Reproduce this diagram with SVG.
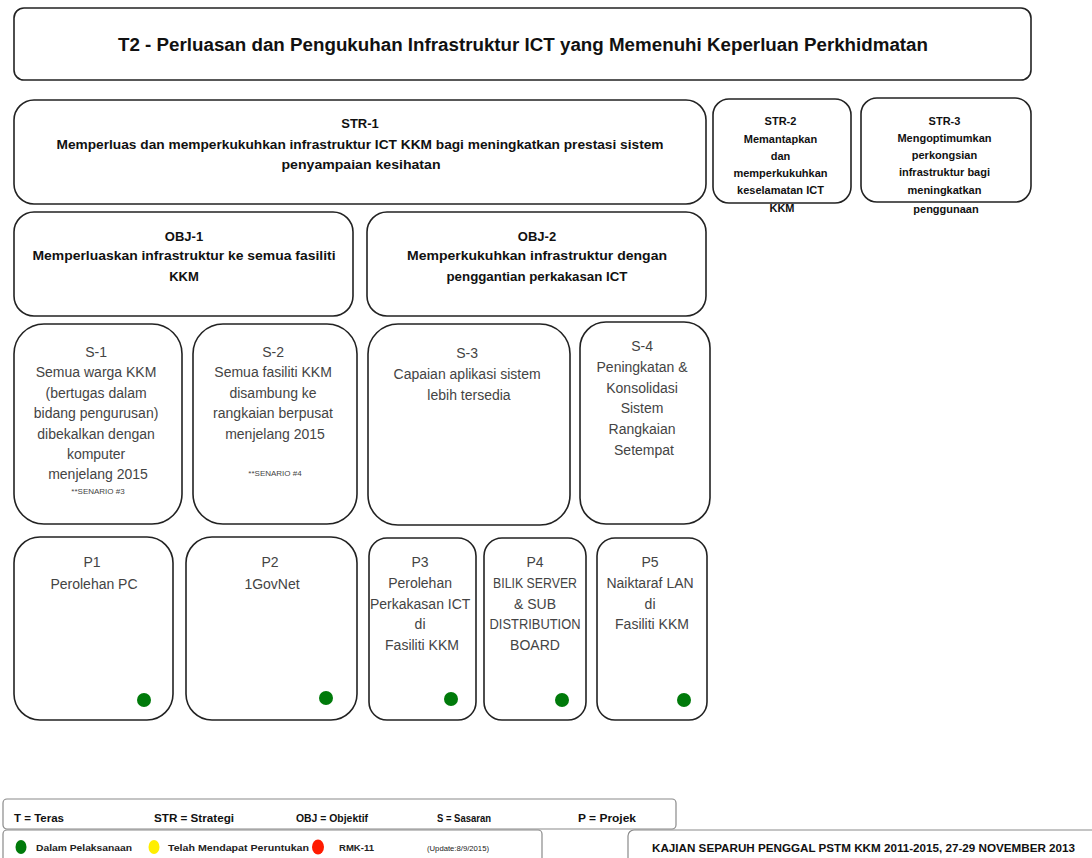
<svg xmlns="http://www.w3.org/2000/svg" width="1092" height="858" viewBox="0 0 1092 858">
  <style>
    .box { fill: #ffffff; stroke: #222222; stroke-width: 1.6; }
    .lbox { fill: #ffffff; stroke: #8a8a8a; stroke-width: 1.2; }
    .hb { font-family: "Liberation Sans", Arial, sans-serif; font-weight: bold; fill: #111111; text-anchor: middle; }
    .tx { font-family: "Liberation Sans", Arial, sans-serif; fill: #444444; text-anchor: middle; font-size: 14px; }
    .sm { font-family: "Liberation Sans", Arial, sans-serif; fill: #444444; text-anchor: middle; font-size: 8px; }
    .lg { font-family: "Liberation Sans", Arial, sans-serif; font-weight: bold; fill: #111111; font-size: 11px; }
    .lgs { font-family: "Liberation Sans", Arial, sans-serif; font-weight: bold; fill: #222222; font-size: 9.5px; }
    .lgx { font-family: "Liberation Sans", Arial, sans-serif; fill: #222222; font-size: 7.5px; }
    .dot { fill: #007a0a; }
  </style>

  <!-- Teras -->
  <g id="t2">
    <rect class="box" x="14" y="8" width="1017" height="72" rx="10"/>
    <text class="hb" x="523" y="51" font-size="18" textLength="810" lengthAdjust="spacingAndGlyphs">T2 - Perluasan dan Pengukuhan Infrastruktur ICT yang Memenuhi Keperluan Perkhidmatan</text>
  </g>

  <!-- Strategi -->
  <g id="str1">
    <rect class="box" x="14" y="100" width="692" height="104" rx="20"/>
    <text class="hb" x="360" y="128" font-size="13">STR-1</text>
    <text class="hb" x="360" y="149" font-size="13" textLength="607" lengthAdjust="spacingAndGlyphs">Memperluas dan memperkukuhkan infrastruktur ICT KKM bagi meningkatkan prestasi sistem</text>
    <text class="hb" x="361" y="169" font-size="13" textLength="159" lengthAdjust="spacingAndGlyphs">penyampaian kesihatan</text>
  </g>
  <g id="str2">
    <rect class="box" x="713" y="99" width="138" height="104" rx="16"/>
    <text class="hb" font-size="11">
      <tspan x="782" y="125">STR-2</tspan>
      <tspan x="782" y="143">Memantapkan</tspan>
      <tspan x="782" y="160">dan</tspan>
      <tspan x="782" y="177">memperkukuhkan</tspan>
      <tspan x="782" y="194">keselamatan ICT</tspan>
      <tspan x="782" y="212">KKM</tspan>
    </text>
  </g>
  <g id="str3">
    <rect class="box" x="861" y="98" width="170" height="104" rx="16"/>
    <text class="hb" font-size="11">
      <tspan x="946" y="125">STR-3</tspan>
      <tspan x="946" y="142">Mengoptimumkan</tspan>
      <tspan x="946" y="159">perkongsian</tspan>
      <tspan x="946" y="176">infrastruktur bagi</tspan>
      <tspan x="946" y="194">meningkatkan</tspan>
      <tspan x="946" y="213">penggunaan</tspan>
    </text>
  </g>

  <!-- Objektif -->
  <g id="obj1">
    <rect class="box" x="14" y="212" width="339" height="104" rx="20"/>
    <text class="hb" x="184" y="241" font-size="13">OBJ-1</text>
    <text class="hb" x="184" y="260" font-size="13" textLength="303" lengthAdjust="spacingAndGlyphs">Memperluaskan infrastruktur ke semua fasiliti</text>
    <text class="hb" x="184" y="281" font-size="13">KKM</text>
  </g>
  <g id="obj2">
    <rect class="box" x="367" y="212" width="339" height="104" rx="20"/>
    <text class="hb" x="537" y="241" font-size="13">OBJ-2</text>
    <text class="hb" x="537" y="260" font-size="13" textLength="260" lengthAdjust="spacingAndGlyphs">Memperkukuhkan infrastruktur dengan</text>
    <text class="hb" x="537" y="281" font-size="13" textLength="181" lengthAdjust="spacingAndGlyphs">penggantian perkakasan ICT</text>
  </g>

  <!-- Sasaran -->
  <g id="s1">
    <rect class="box" x="14" y="324" width="168" height="200" rx="30"/>
    <text class="tx">
      <tspan x="98" y="357">S-1</tspan>
      <tspan x="98" y="377">Semua warga KKM</tspan>
      <tspan x="98" y="398">(bertugas dalam</tspan>
      <tspan x="98" y="418">bidang pengurusan)</tspan>
      <tspan x="98" y="439">dibekalkan dengan</tspan>
      <tspan x="98" y="459">komputer</tspan>
      <tspan x="98" y="479">menjelang 2015</tspan>
    </text>
    <text class="sm" x="98" y="494">**SENARIO #3</text>
  </g>
  <g id="s2">
    <rect class="box" x="193" y="324" width="164" height="200" rx="30"/>
    <text class="tx">
      <tspan x="275" y="357">S-2</tspan>
      <tspan x="275" y="377">Semua fasiliti KKM</tspan>
      <tspan x="275" y="398">disambung ke</tspan>
      <tspan x="275" y="418">rangkaian berpusat</tspan>
      <tspan x="275" y="439">menjelang 2015</tspan>
    </text>
    <text class="sm" x="275" y="476">**SENARIO #4</text>
  </g>
  <g id="s3">
    <rect class="box" x="368" y="324" width="202" height="201" rx="30"/>
    <text class="tx">
      <tspan x="469" y="358">S-3</tspan>
      <tspan x="469" y="379">Capaian aplikasi sistem</tspan>
      <tspan x="469" y="400">lebih tersedia</tspan>
    </text>
  </g>
  <g id="s4">
    <rect class="box" x="580" y="322" width="130" height="202" rx="26"/>
    <text class="tx">
      <tspan x="644" y="351">S-4</tspan>
      <tspan x="644" y="372">Peningkatan &amp;</tspan>
      <tspan x="644" y="393">Konsolidasi</tspan>
      <tspan x="644" y="413">Sistem</tspan>
      <tspan x="644" y="434">Rangkaian</tspan>
      <tspan x="644" y="455">Setempat</tspan>
    </text>
  </g>

  <!-- Projek -->
  <g id="p1">
    <rect class="box" x="14" y="537" width="159" height="183" rx="26"/>
    <text class="tx">
      <tspan x="94" y="567">P1</tspan>
      <tspan x="94" y="589">Perolehan PC</tspan>
    </text>
    <circle class="dot" cx="144" cy="700" r="7"/>
  </g>
  <g id="p2">
    <rect class="box" x="186" y="537" width="171" height="183" rx="26"/>
    <text class="tx">
      <tspan x="272" y="567">P2</tspan>
      <tspan x="272" y="589">1GovNet</tspan>
    </text>
    <circle class="dot" cx="326" cy="698" r="7"/>
  </g>
  <g id="p3">
    <rect class="box" x="369" y="538" width="107" height="182" rx="18"/>
    <text class="tx">
      <tspan x="422" y="567">P3</tspan>
      <tspan x="422" y="588">Perolehan</tspan>
      <tspan x="422" y="609">Perkakasan ICT</tspan>
      <tspan x="422" y="629">di</tspan>
      <tspan x="422" y="650">Fasiliti KKM</tspan>
    </text>
    <circle class="dot" cx="451" cy="699" r="7"/>
  </g>
  <g id="p4">
    <rect class="box" x="484" y="538" width="102" height="182" rx="18"/>
    <text class="tx" x="535" y="567">P4</text>
    <text class="tx" x="535" y="588" textLength="84" lengthAdjust="spacingAndGlyphs">BILIK SERVER</text>
    <text class="tx" x="535" y="609">&amp; SUB</text>
    <text class="tx" x="535" y="629" textLength="91" lengthAdjust="spacingAndGlyphs">DISTRIBUTION</text>
    <text class="tx" x="535" y="650">BOARD</text>
    <circle class="dot" cx="562" cy="700" r="7"/>
  </g>
  <g id="p5">
    <rect class="box" x="597" y="538" width="110" height="182" rx="18"/>
    <text class="tx">
      <tspan x="652" y="567">P5</tspan>
      <tspan x="652" y="588">Naiktaraf LAN</tspan>
      <tspan x="652" y="609">di</tspan>
      <tspan x="652" y="629">Fasiliti KKM</tspan>
    </text>
    <circle class="dot" cx="684" cy="700" r="7"/>
  </g>

  <!-- Connectors: none drawn in this chart -->
  <g id="connectors"></g>

  <!-- Legend -->
  <g id="legend-abbrev">
    <rect class="lbox" x="3" y="799" width="673" height="30" rx="4"/>
    <text class="lg" x="14" y="822" textLength="50" lengthAdjust="spacingAndGlyphs">T = Teras</text>
    <text class="lg" x="154" y="822" textLength="80" lengthAdjust="spacingAndGlyphs">STR = Strategi</text>
    <text class="lg" x="296" y="822" textLength="72" lengthAdjust="spacingAndGlyphs">OBJ = Objektif</text>
    <text class="lg" x="437" y="822" textLength="54" lengthAdjust="spacingAndGlyphs">S = Sasaran</text>
    <text class="lg" x="578" y="822" textLength="58" lengthAdjust="spacingAndGlyphs">P = Projek</text>
  </g>
  <g id="legend-status">
    <rect class="lbox" x="3" y="830" width="539" height="40" rx="4"/>
    <ellipse cx="21" cy="847" rx="5.5" ry="7" fill="#007a0a"/>
    <text class="lgs" x="36" y="851" textLength="96" lengthAdjust="spacingAndGlyphs">Dalam Pelaksanaan</text>
    <ellipse cx="154" cy="847" rx="5.5" ry="7" fill="#ffee00"/>
    <text class="lgs" x="168" y="851" textLength="141" lengthAdjust="spacingAndGlyphs">Telah Mendapat Peruntukan</text>
    <ellipse cx="318" cy="847" rx="6" ry="7.5" fill="#ff1a00"/>
    <text class="lgs" x="339" y="851" textLength="35" lengthAdjust="spacingAndGlyphs">RMK-11</text>
    <text class="lgx" x="427" y="851" textLength="62" lengthAdjust="spacingAndGlyphs">(Update:8/9/2015)</text>
  </g>
  <g id="footer">
    <rect class="lbox" x="628" y="830" width="480" height="40" rx="6"/>
    <text class="lg" x="652" y="852" textLength="423" lengthAdjust="spacingAndGlyphs">KAJIAN SEPARUH PENGGAL PSTM KKM 2011-2015, 27-29 NOVEMBER 2013</text>
  </g>
</svg>
